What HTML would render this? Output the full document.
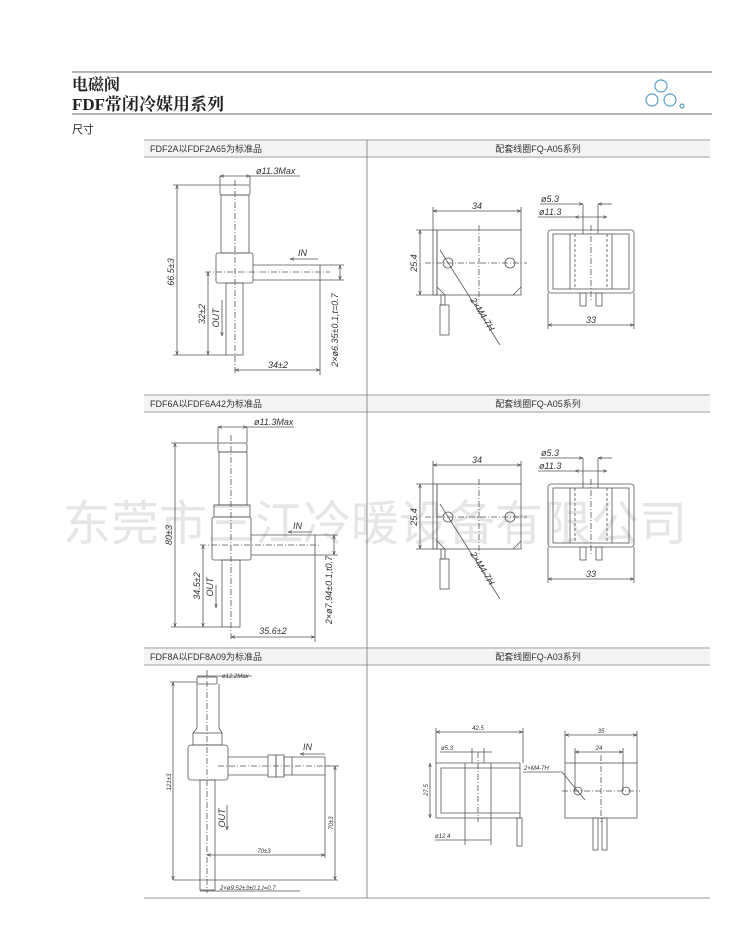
<!DOCTYPE html>
<html><head><meta charset="utf-8"><style>
html,body{margin:0;padding:0;background:#fff;}
svg{display:block}
.t{font-family:"Liberation Sans","Noto Sans CJK SC",sans-serif;}
.d{font-family:"Liberation Sans",sans-serif;font-style:italic;font-size:9px;fill:#333;}
.s{font-family:"Liberation Sans",sans-serif;font-style:italic;font-size:6px;fill:#333;}
</style></head><body>
<svg width="754" height="943" viewBox="0 0 754 943" xmlns="http://www.w3.org/2000/svg">
<defs>
<marker id="a" viewBox="0 0 6 6" refX="6" refY="3" markerWidth="5" markerHeight="5" orient="auto-start-reverse"><path d="M0,1 L6,3 L0,5" fill="none" stroke="#444" stroke-width="0.8"/></marker>
</defs>
<!-- watermark -->
<text x="375" y="540" text-anchor="middle" class="t" font-size="48" fill="#e6e6e6" letter-spacing="0">东莞市三江冷暖设备有限公司</text>

<!-- header -->
<line x1="72" y1="72" x2="712" y2="72" stroke="#888" stroke-width="1.2"/>
<text x="72" y="90" font-family="'Liberation Serif','Noto Serif CJK SC',serif" font-weight="bold" font-size="16" fill="#222">电磁阀</text>
<text x="72" y="110" font-family="'Liberation Serif','Noto Serif CJK SC',serif" font-weight="bold" font-size="17" fill="#222">FDF常闭冷媒用系列</text>
<line x1="72" y1="114" x2="712" y2="114" stroke="#888" stroke-width="1.2"/>
<g fill="none" stroke="#5aa0d0" stroke-width="1.2">
<circle cx="661" cy="86" r="6"/><circle cx="652" cy="100" r="6"/><circle cx="670" cy="100" r="6"/>
<circle cx="682" cy="106" r="2"/>
</g>
<text x="72" y="133" class="t" font-size="11" fill="#222">尺寸</text>

<!-- table -->
<g stroke="#999" stroke-width="1">
<line x1="144" y1="140" x2="710" y2="140"/><line x1="144" y1="157" x2="710" y2="157"/>
<line x1="144" y1="395" x2="710" y2="395"/><line x1="144" y1="412" x2="710" y2="412"/>
<line x1="144" y1="648" x2="710" y2="648"/><line x1="144" y1="665" x2="710" y2="665"/>
<line x1="144" y1="898" x2="710" y2="898"/>
</g>
<rect x="144" y="141" width="566" height="15" fill="#f4f4f4"/>
<rect x="144" y="396" width="566" height="15" fill="#f4f4f4"/>
<rect x="144" y="649" width="566" height="15" fill="#f4f4f4"/>
<line x1="367" y1="140" x2="367" y2="898" stroke="#777" stroke-width="0.8"/>
<g class="t" font-size="9" fill="#333">
<text x="150" y="152">FDF2A以FDF2A65为标准品</text>
<text x="538" y="152" text-anchor="middle">配套线圈FQ-A05系列</text>
<text x="150" y="407">FDF6A以FDF6A42为标准品</text>
<text x="538" y="407" text-anchor="middle">配套线圈FQ-A05系列</text>
<text x="150" y="660">FDF8A以FDF8A09为标准品</text>
<text x="538" y="660" text-anchor="middle">配套线圈FQ-A03系列</text>
</g>

<g fill="none" stroke="#555" stroke-width="0.8">
<!-- valve 1 -->
<rect x="220" y="185" width="30" height="10" rx="2"/>
<rect x="221" y="195" width="28" height="58"/>
<rect x="216" y="253" width="37" height="30" rx="2"/>
<rect x="226" y="283" width="17" height="72"/>
<path d="M253,265 H320 V280 H253"/>
<line x1="235" y1="180" x2="235" y2="375" stroke-dasharray="6,2,1,2"/>
<line x1="205" y1="272" x2="330" y2="272" stroke-dasharray="6,2,1,2"/>
<line x1="220" y1="176" x2="250" y2="176" marker-start="url(#a)" marker-end="url(#a)"/><line x1="250" y1="176" x2="300" y2="176"/>
<line x1="220" y1="176" x2="220" y2="185"/><line x1="250" y1="176" x2="250" y2="185"/>
<line x1="177" y1="185" x2="177" y2="355" marker-start="url(#a)" marker-end="url(#a)"/>
<line x1="173" y1="185" x2="220" y2="185"/><line x1="173" y1="355" x2="226" y2="355"/>
<line x1="208" y1="272" x2="208" y2="355" marker-start="url(#a)" marker-end="url(#a)"/>
<line x1="222" y1="300" x2="222" y2="336" marker-end="url(#a)"/>
<line x1="318" y1="259" x2="290" y2="259" marker-end="url(#a)"/>
<line x1="235" y1="370" x2="320" y2="370" marker-start="url(#a)" marker-end="url(#a)"/>
<line x1="320" y1="280" x2="320" y2="375"/>
<line x1="340" y1="265" x2="340" y2="280" marker-start="url(#a)" marker-end="url(#a)"/>
<line x1="320" y1="265" x2="344" y2="265"/><line x1="320" y1="280" x2="344" y2="280"/>
</g>
<text x="256" y="174" class="d">ø11.3Max</text>
<text class="d" transform="translate(174,272) rotate(-90)" text-anchor="middle">66.5±3</text>
<text class="d" transform="translate(205,314) rotate(-90)" text-anchor="middle">32±2</text>
<text class="d" transform="translate(219,318) rotate(-90)" text-anchor="middle" font-size="8">OUT</text>
<text x="298" y="256" class="d" font-size="8">IN</text>
<text x="278" y="368" class="d" text-anchor="middle">34±2</text>
<text class="d" transform="translate(338,330) rotate(-90)" text-anchor="middle">2×ø6.35±0.1,t=0.7</text>

<!-- valve 2 -->
<g fill="none" stroke="#555" stroke-width="0.8">
<rect x="218" y="443" width="29" height="9" rx="2"/>
<rect x="219" y="452" width="28" height="53"/>
<rect x="214" y="505" width="36" height="12"/>
<rect x="212" y="517" width="39" height="43" rx="2"/>
<rect x="222" y="560" width="18" height="67"/>
<path d="M251,535 H315 V555 H251"/>
<line x1="231" y1="435" x2="231" y2="640" stroke-dasharray="6,2,1,2"/>
<line x1="200" y1="545" x2="320" y2="545" stroke-dasharray="6,2,1,2"/>
<line x1="218" y1="427" x2="247" y2="427" marker-start="url(#a)" marker-end="url(#a)"/><line x1="247" y1="427" x2="294" y2="427"/>
<line x1="218" y1="427" x2="218" y2="443"/><line x1="247" y1="427" x2="247" y2="443"/>
<line x1="175" y1="443" x2="175" y2="627" marker-start="url(#a)" marker-end="url(#a)"/>
<line x1="171" y1="443" x2="218" y2="443"/><line x1="171" y1="627" x2="222" y2="627"/>
<line x1="203" y1="545" x2="203" y2="627" marker-start="url(#a)" marker-end="url(#a)"/>
<line x1="216" y1="585" x2="216" y2="608" marker-end="url(#a)"/>
<line x1="312" y1="532" x2="288" y2="532" marker-end="url(#a)"/>
<line x1="231" y1="637" x2="315" y2="637" marker-start="url(#a)" marker-end="url(#a)"/>
<line x1="315" y1="555" x2="315" y2="642"/>
<line x1="334" y1="535" x2="334" y2="555" marker-start="url(#a)" marker-end="url(#a)"/>
<line x1="315" y1="535" x2="338" y2="535"/><line x1="315" y1="555" x2="338" y2="555"/>
</g>
<text x="254" y="425" class="d">ø11.3Max</text>
<text class="d" transform="translate(172,535) rotate(-90)" text-anchor="middle">80±3</text>
<text class="d" transform="translate(200,586) rotate(-90)" text-anchor="middle">34.5±2</text>
<text class="d" transform="translate(213,587) rotate(-90)" text-anchor="middle" font-size="8">OUT</text>
<text x="293" y="529" class="d" font-size="8">IN</text>
<text x="273" y="634" class="d" text-anchor="middle">35.6±2</text>
<text class="d" transform="translate(332,590) rotate(-90)" text-anchor="middle">2×ø7.94±0.1,t0.7</text>

<!-- valve 3 -->
<g fill="none" stroke="#555" stroke-width="0.8">
<rect x="197" y="677" width="20" height="7" rx="1"/>
<path d="M197,684 V728 L193,733 M219,684 V728 L222,733"/>
<rect x="193" y="733" width="29" height="12"/>
<rect x="188" y="745" width="40" height="35" rx="3"/>
<rect x="200" y="780" width="15" height="110"/>
<path d="M228,757 H268 M228,775 H268 M292,757 H325 V775 H292"/>
<rect x="268" y="755" width="8" height="22"/><rect x="276" y="755" width="8" height="22"/><rect x="284" y="757" width="8" height="18"/>
<line x1="207" y1="670" x2="207" y2="893" stroke-dasharray="6,2,1,2"/>
<line x1="218" y1="766" x2="330" y2="766" stroke-dasharray="6,2,1,2"/>
<line x1="197" y1="676" x2="217" y2="676"/><line x1="217" y1="676" x2="252" y2="676"/>
<line x1="173" y1="682" x2="173" y2="880" marker-start="url(#a)" marker-end="url(#a)"/>
<line x1="170" y1="682" x2="197" y2="682"/>
<line x1="173" y1="880" x2="338" y2="880"/>
<line x1="335" y1="766" x2="335" y2="880" marker-start="url(#a)" marker-end="url(#a)"/>
<line x1="325" y1="766" x2="339" y2="766"/>
<line x1="207" y1="855" x2="325" y2="855" marker-start="url(#a)" marker-end="url(#a)"/>
<line x1="325" y1="775" x2="325" y2="858"/>
<line x1="227" y1="805" x2="227" y2="830" marker-end="url(#a)"/>
<line x1="325" y1="754" x2="300" y2="754" marker-end="url(#a)"/>
<line x1="200" y1="891" x2="215" y2="891"/><line x1="215" y1="891" x2="300" y2="891"/>
</g>
<text x="222" y="678" class="s">ø12.2Max</text>
<text class="s" transform="translate(171,782) rotate(-90)" text-anchor="middle">121±3</text>
<text class="s" transform="translate(333,823) rotate(-90)" text-anchor="middle">70±3</text>
<text x="264" y="853" class="s" text-anchor="middle">70±3</text>
<text class="d" transform="translate(225,818) rotate(-90)" text-anchor="middle" font-size="8">OUT</text>
<text x="303" y="750" class="d" font-size="8">IN</text>
<text x="220" y="890" class="s">2×ø9.52±3±0.1,t=0.7</text>

<!-- coil A05 (two copies) -->
<g id="c1" fill="none" stroke="#555" stroke-width="0.8">
<rect x="437" y="230" width="84" height="65"/>
<rect x="433" y="230" width="4" height="65"/>
<path d="M437,287 L445,295 M521,287 L513,295"/>
<circle cx="448" cy="263" r="5"/><circle cx="510" cy="263" r="5"/>
<line x1="425" y1="263" x2="527" y2="263" stroke-dasharray="6,2,1,2"/>
<line x1="479" y1="225" x2="479" y2="300" stroke-dasharray="6,2,1,2"/>
<rect x="441" y="295" width="4" height="10"/><rect x="440" y="305" width="9" height="30"/>
<line x1="440" y1="250" x2="500" y2="345"/>
<line x1="433" y1="211" x2="521" y2="211" marker-start="url(#a)" marker-end="url(#a)"/>
<line x1="433" y1="207" x2="433" y2="230"/><line x1="521" y1="207" x2="521" y2="230"/>
<line x1="420" y1="230" x2="420" y2="295" marker-start="url(#a)" marker-end="url(#a)"/>
<line x1="416" y1="230" x2="433" y2="230"/><line x1="416" y1="295" x2="437" y2="295"/>
<rect x="548" y="230" width="86" height="63" rx="3"/>
<rect x="553" y="234" width="76" height="55"/>
<line x1="570" y1="234" x2="570" y2="289"/><line x1="612" y1="234" x2="612" y2="289"/>
<line x1="575" y1="234" x2="575" y2="289" stroke-dasharray="3,2"/><line x1="607" y1="234" x2="607" y2="289" stroke-dasharray="3,2"/>
<line x1="591" y1="225" x2="591" y2="300" stroke-dasharray="6,2,1,2"/>
<rect x="580" y="293" width="6" height="13"/><rect x="596" y="293" width="6" height="13"/>
<line x1="583" y1="204" x2="583" y2="234"/><line x1="598" y1="204" x2="598" y2="234"/>
<line x1="540" y1="204" x2="583" y2="204" marker-end="url(#a)"/><line x1="612" y1="204" x2="598" y2="204" marker-end="url(#a)"/>
<line x1="575" y1="217" x2="607" y2="217" marker-start="url(#a)" marker-end="url(#a)"/><line x1="538" y1="217" x2="575" y2="217"/>
<line x1="548" y1="325" x2="634" y2="325" marker-start="url(#a)" marker-end="url(#a)"/>
<line x1="548" y1="293" x2="548" y2="329"/><line x1="634" y1="293" x2="634" y2="329"/>
</g>
<g id="c1t">
<text x="477" y="209" class="d" text-anchor="middle">34</text>
<text class="d" transform="translate(417,263) rotate(-90)" text-anchor="middle">25.4</text>
<text class="d" transform="translate(470,300) rotate(58)">2×M4-7H</text>
<text x="541" y="202" class="d">ø5.3</text>
<text x="539" y="215" class="d">ø11.3</text>
<text x="591" y="323" class="d" text-anchor="middle">33</text>
</g>
<use href="#c1" y="254"/>
<use href="#c1t" y="254"/>

<!-- coil A03 -->
<g fill="none" stroke="#555" stroke-width="0.8">
<path d="M520,763 H436 V818 H520"/>
<path d="M520,768 H441 V813 H520"/>
<line x1="520" y1="763" x2="520" y2="818"/>
<line x1="465" y1="763" x2="465" y2="845"/><line x1="491" y1="763" x2="491" y2="845"/>
<line x1="478" y1="752" x2="478" y2="822" stroke-dasharray="6,2,1,2"/>
<rect x="517" y="818" width="5" height="28"/>
<line x1="436" y1="732" x2="523" y2="732" marker-start="url(#a)" marker-end="url(#a)"/>
<line x1="436" y1="728" x2="436" y2="763"/><line x1="523" y1="728" x2="523" y2="763"/>
<line x1="430" y1="763" x2="430" y2="818" marker-start="url(#a)" marker-end="url(#a)"/>
<line x1="440" y1="752" x2="492" y2="752"/><line x1="472" y1="748" x2="472" y2="763"/><line x1="484" y1="748" x2="484" y2="763"/>
<line x1="435" y1="840" x2="491" y2="840"/>
<rect x="565" y="763" width="72" height="55"/>
<circle cx="578" cy="791" r="4"/><circle cx="626" cy="791" r="4"/>
<line x1="562" y1="791" x2="640" y2="791" stroke-dasharray="6,2,1,2"/>
<line x1="601" y1="755" x2="601" y2="822" stroke-dasharray="6,2,1,2"/>
<rect x="593" y="818" width="5" height="32"/><rect x="602" y="818" width="5" height="32"/>
<line x1="565" y1="735" x2="637" y2="735" marker-start="url(#a)" marker-end="url(#a)"/>
<line x1="565" y1="731" x2="565" y2="763"/><line x1="637" y1="731" x2="637" y2="763"/>
<line x1="575" y1="752" x2="623" y2="752" marker-start="url(#a)" marker-end="url(#a)"/>
<line x1="575" y1="748" x2="575" y2="791"/><line x1="623" y1="748" x2="623" y2="791"/>
<line x1="523" y1="772" x2="562" y2="772"/><line x1="562" y1="772" x2="585" y2="800"/>
</g>
<text x="478" y="730" class="s" text-anchor="middle" font-size="7">42.5</text>
<text x="441" y="750" class="s" font-size="7">ø5.3</text>
<text class="s" font-size="7" transform="translate(428,790) rotate(-90)" text-anchor="middle">27.5</text>
<text x="435" y="838" class="s" font-size="7">ø12.4</text>
<text x="601" y="733" class="s" text-anchor="middle" font-size="7">35</text>
<text x="599" y="750" class="s" text-anchor="middle" font-size="7">24</text>
<text x="524" y="770" class="s" font-size="7">2×M4-7H</text>
</svg>
</body></html>
